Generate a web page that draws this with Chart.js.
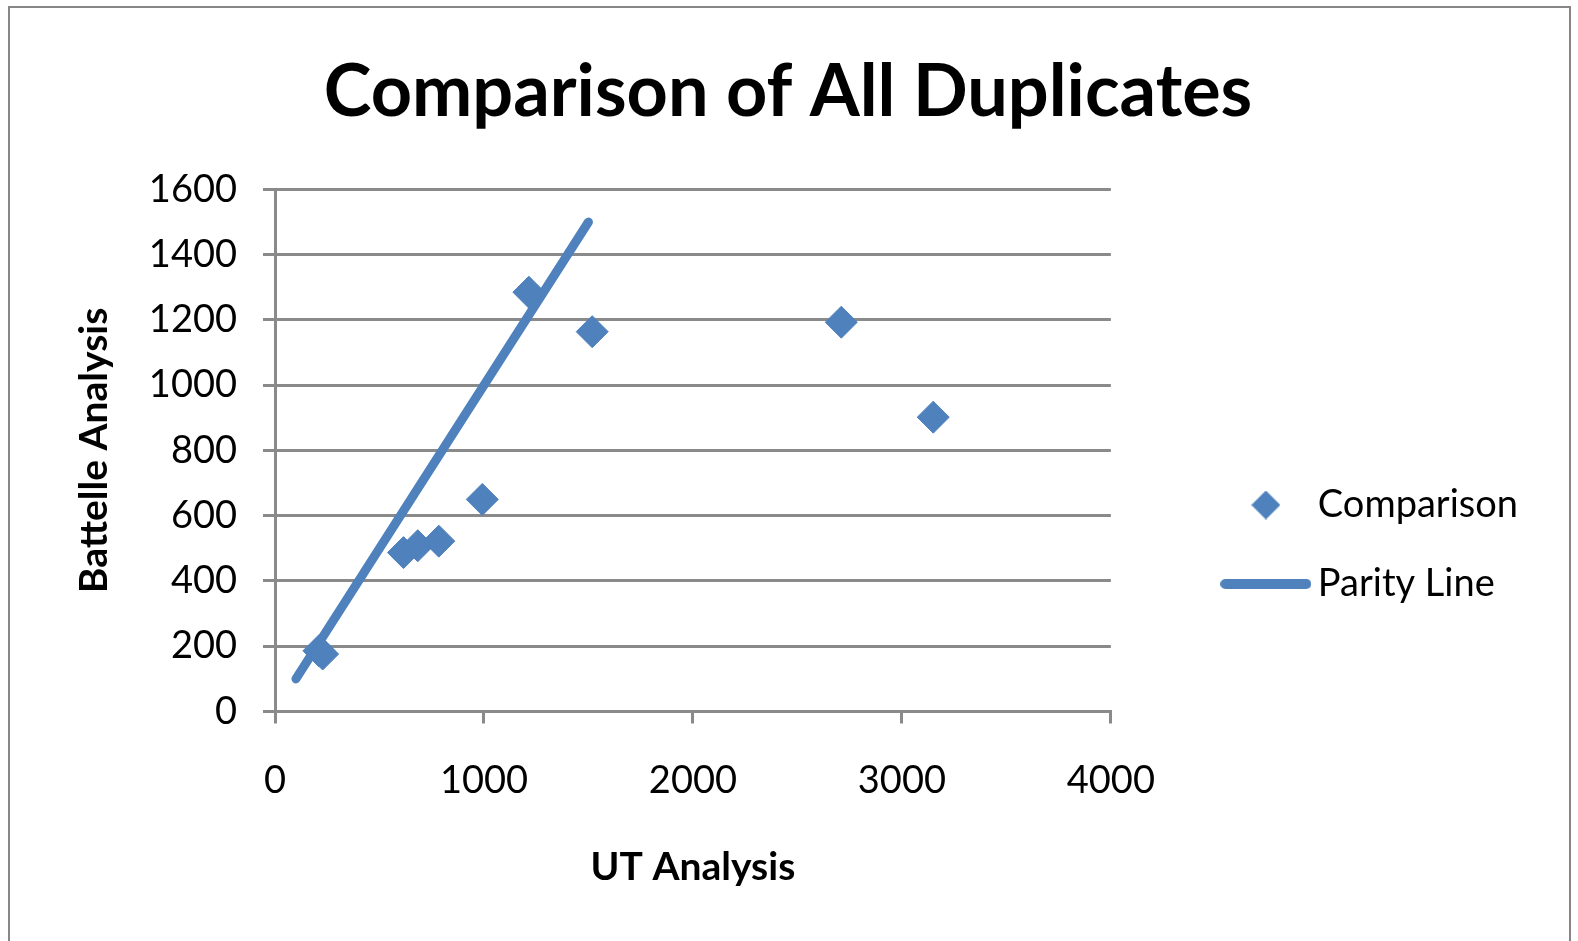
<!DOCTYPE html>
<html>
<head>
<meta charset="utf-8">
<script src="https://cdn.jsdelivr.net/npm/chart.js@4.4.1/dist/chart.umd.min.js"></script>
<style>
  html, body { margin: 0; padding: 0; background: #fff; overflow: hidden; }
  #wrap { position: relative; width: 1578px; height: 941px; }
  #frame { position: absolute; left: 8px; top: 6px; width: 1563px; height: 1000px; border: 2px solid #878787; box-sizing: border-box; }
  #chart { position: absolute; left: 0; top: 0; }
</style>
</head>
<body>
<div id="wrap">
  <div id="frame"></div>
  <canvas id="chart" width="1578" height="941"></canvas>
</div>
<script>
// values
const utAnalysis = [210, 228, 615, 683, 784, 992, 1215, 1518, 2710, 3150];
const battelleAnalysis = [186, 176, 487, 508, 522, 650, 1285, 1164, 1193, 902];
const parityX = [100, 1500];
const parityY = [100, 1500];
const xTicks = [0, 1000, 2000, 3000, 4000];
const yTicks = [0, 200, 400, 600, 800, 1000, 1200, 1400, 1600];

const blue = '#4f81bd';
const gridGrey = '#8a8a8a';

Chart.defaults.font.family = 'Lato, "Open Sans", sans-serif';
Chart.defaults.color = '#000';

function diamondIcon(size) {
  const c = document.createElement('canvas');
  c.width = size; c.height = size;
  const g = c.getContext('2d');
  g.fillStyle = blue;
  g.beginPath();
  g.moveTo(size / 2, 0);
  g.lineTo(size, size / 2);
  g.lineTo(size / 2, size);
  g.lineTo(0, size / 2);
  g.closePath();
  g.fill();
  return c;
}

function lineIcon(w, h) {
  const c = document.createElement('canvas');
  c.width = w; c.height = h;
  const g = c.getContext('2d');
  g.strokeStyle = blue;
  g.lineWidth = h;
  g.lineCap = 'round';
  g.beginPath();
  g.moveTo(h / 2, h / 2);
  g.lineTo(w - h / 2, h / 2);
  g.stroke();
  return c;
}

const legendIcons = [diamondIcon(29), lineIcon(91, 10)];

new Chart(document.querySelector('#chart'), {
  type: 'scatter',
  data: {
    datasets: [
      {
        label: 'Comparison',
        data: utAnalysis.map((x, i) => ({ x, y: battelleAnalysis[i] })),
        pointStyle: 'rectRot',
        pointRadius: 16,
        pointHoverRadius: 16,
        backgroundColor: blue,
        borderColor: blue,
        borderWidth: 1
      },
      {
        label: 'Parity Line',
        type: 'line',
        data: parityX.map((x, i) => ({ x, y: parityY[i] })),
        showLine: true,
        pointRadius: 0,
        borderColor: blue,
        backgroundColor: blue,
        borderWidth: 9,
        borderCapStyle: 'round',
        fill: false
      }
    ]
  },
  options: {
    responsive: false,
    animation: false,
    devicePixelRatio: 1,
    layout: { padding: { left: 48, right: 50, top: 0, bottom: 0 } },
    plugins: {
      title: {
        display: true,
        text: 'Comparison of All Duplicates',
        font: { size: 72, weight: 'bold' },
        color: '#000',
        padding: { top: 50, bottom: 53 }
      },
      legend: {
        position: 'right',
        title: { display: true, text: ' ', font: { size: 10 }, padding: { top: 0, bottom: 136 } },
        labels: {
          usePointStyle: true,
          pointStyleWidth: 66,
          padding: 41,
          color: '#000',
          font: { size: 38 },
          generateLabels(chart) {
            const items = Chart.defaults.plugins.legend.labels.generateLabels(chart);
            items.forEach((item, i) => { item.pointStyle = legendIcons[i]; item.rotation = 0; });
            return items;
          }
        }
      },
      tooltip: { enabled: false }
    },
    scales: {
      x: {
        type: 'linear',
        position: 'bottom',
        min: xTicks[0],
        max: xTicks[xTicks.length - 1],
        afterBuildTicks(scale) { scale.ticks = xTicks.map(v => ({ value: v })); },
        ticks: { font: { size: 38 }, padding: 34, color: '#000', maxRotation: 0, callback: v => String(v) },
        grid: { drawOnChartArea: false, drawTicks: true, tickLength: 12, color: gridGrey, lineWidth: 3 },
        border: { display: true, color: gridGrey, width: 3 },
        title: { display: true, text: 'UT Analysis', font: { size: 39, weight: 'bold' }, color: '#000', padding: { top: 0, bottom: 50 } },
        afterFit(scale) { scale.height = 229.5; }
      },
      y: {
        type: 'linear',
        position: 'left',
        min: yTicks[0],
        max: yTicks[yTicks.length - 1],
        afterBuildTicks(scale) { scale.ticks = yTicks.map(v => ({ value: v })); },
        ticks: { font: { size: 38 }, padding: 26, color: '#000', callback: v => String(v) },
        grid: { drawOnChartArea: true, drawTicks: true, tickLength: 12, color: gridGrey, lineWidth: 3 },
        border: { display: true, color: gridGrey, width: 3 },
        title: { display: true, text: 'Battelle Analysis', font: { size: 39, weight: 'bold' }, color: '#000', padding: { top: 23, bottom: 0 } },
        afterFit(scale) { scale.width = 227; }
      },
      gap: {
        type: 'linear',
        position: 'right',
        display: false,
        afterFit(scale) { scale.width = 81; }
      }
    }
  }
});
</script>
</body>
</html>
